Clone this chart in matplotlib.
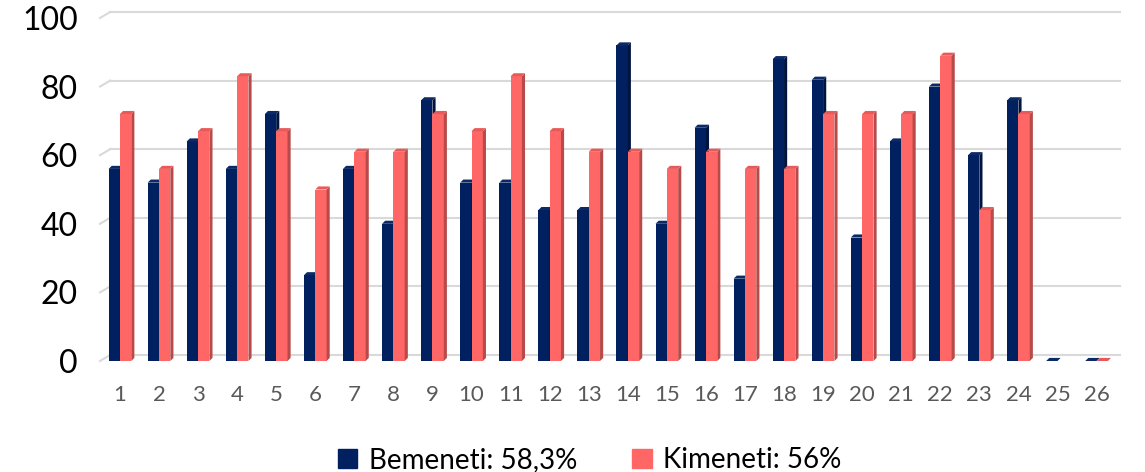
import matplotlib.pyplot as plt
import numpy as np
from matplotlib.patches import Polygon, Patch

plt.rcParams['font.family'] = ['Lato', 'DejaVu Sans']

categories = [str(i) for i in range(1, 27)]
bemeneti = [56, 52, 64, 56, 72, 25, 56, 40, 76, 52, 52, 44, 44, 92, 40, 68, 24, 88, 82, 36, 64, 80, 60, 76, 0, 0]
kimeneti = [72, 56, 67, 83, 67, 50, 61, 61, 72, 67, 83, 67, 61, 61, 56, 61, 56, 56, 72, 72, 72, 89, 44, 72, np.nan, 0]
labels = ["Bemeneti: 58,3%", "Kimeneti: 56%"]
colors = ["#002060", "#FF6666"]
side_colors = ["#00143d", "#b84a4a"]
top_colors = ["#0b2a66", "#e85a5a"]
yticks = [0, 20, 40, 60, 80, 100]

fig = plt.figure(figsize=(11.45, 4.72), dpi=100)
ax = fig.add_axes([100 / 1145, 1 - 361 / 472, 1020 / 1145, 343 / 472])

x = np.arange(1, len(categories) + 1)
w = 0.29
dx, dy = 0.08, 0.9   # 3d depth offset in data units

ax.set_xlim(0.49, 26.6)
ax.set_ylim(0, 100)

# back wall gridlines with slanted side-wall part
for t in yticks:
    ax.plot([0.49, 0.49 + 0.26], [t, t + 1.75], color="#d9d9d9", lw=1.5, zorder=0, clip_on=False)
    ax.plot([0.49 + 0.26, 26.6], [t + 1.75, t + 1.75], color="#d9d9d9", lw=1.5, zorder=0, clip_on=False)

series = [bemeneti, kimeneti]
offsets = [-w / 2, w / 2]
for i, vals in enumerate(series):
    z = 2 + i * 2
    bars = ax.bar(x + offsets[i], vals, width=w, color=colors[i], zorder=z, linewidth=0)
    for r in bars:
        x0, y0 = r.get_x(), r.get_y()
        bw, bh = r.get_width(), r.get_height()
        if np.isnan(bh):
            continue
        side = Polygon([(x0 + bw, y0), (x0 + bw + dx, y0 + dy), (x0 + bw + dx, y0 + bh + dy), (x0 + bw, y0 + bh)],
                       closed=True, color=side_colors[i], lw=0, zorder=z, clip_on=False)
        top = Polygon([(x0, y0 + bh), (x0 + bw, y0 + bh), (x0 + bw + dx, y0 + bh + dy), (x0 + dx, y0 + bh + dy)],
                      closed=True, color=top_colors[i], lw=0, zorder=z + 0.5, clip_on=False)
        ax.add_patch(side)
        ax.add_patch(top)

ax.set_xticks(x)
ax.set_xticklabels(categories, fontsize=16, color="#595959")
ax.set_yticks(yticks)
ax.set_yticklabels([str(t) for t in yticks], fontsize=23, color="black")
ax.tick_params(axis="x", length=0, pad=17)
ax.tick_params(axis="y", length=0, pad=16)
for s in ax.spines.values():
    s.set_visible(False)

handles = [Patch(color=c) for c in colors]
fig.legend(handles, labels, loc="lower center", bbox_to_anchor=(0.515, -0.055), ncol=2, frameon=False,
           fontsize=20, handlelength=0.7, handleheight=0.7, handletextpad=0.4, columnspacing=2.0)

fig.savefig("out.png", dpi=100)
